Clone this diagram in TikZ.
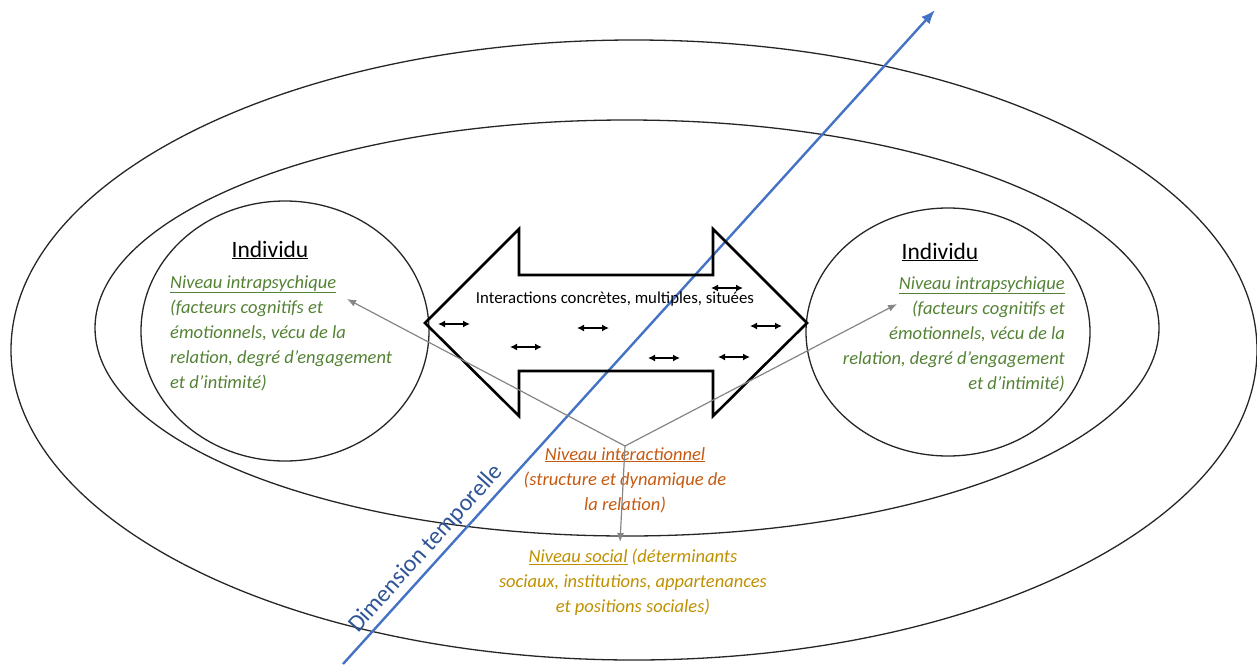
\documentclass[tikz,border=0pt]{standalone}
\usepackage{fontspec}
\setmainfont{Carlito}
\usetikzlibrary{arrows.meta,positioning,calc}
\definecolor{intraGreen}{HTML}{548235}
\definecolor{interOrange}{HTML}{C55A11}
\definecolor{socialGold}{HTML}{BF9000}
\definecolor{timeBlue}{HTML}{4472C4}
\definecolor{timeText}{HTML}{2F5597}
\begin{document}
\begin{tikzpicture}[x=1pt,y=-1pt,
	ring/.style={draw=black!85,line width=1.3pt},
	bigarrow/.style={draw=black,line width=2.6pt,line join=miter},
	smallarrow/.style={{Latex[length=7pt,width=7pt]}-{Latex[length=7pt,width=7pt]},line width=1.6pt},
	link/.style={-{Latex[length=9pt,width=7pt]},draw=black!48,line width=1.2pt},
	title/.style={font=\fontsize{23.5}{28}\selectfont,inner sep=0pt},
	intra/.style={font=\fontsize{18.5}{25}\selectfont\itshape,text=intraGreen,inner sep=0pt},
	level/.style={font=\fontsize{18.5}{25}\selectfont\itshape,inner sep=0pt,align=center}]
	\useasboundingbox (0,0) rectangle (1257,664);
	
	% les trois niveaux
	\draw[ring] (634,350) ellipse [x radius=623, y radius=310];
	\draw[ring] (627,328) ellipse [x radius=532, y radius=208];
	\draw[ring] (285,331) ellipse [x radius=144, y radius=130];
	\draw[ring] (948,332) ellipse [x radius=142, y radius=124];
	
	% dimension temporelle
	\coordinate (tstart) at (343,664);
	\coordinate (tend) at (935,10);
	\draw[-{Latex[length=14pt,width=11pt]},draw=timeBlue,line width=2.4pt] (tstart) -- (tend)
		node[pos=0.16,sloped,above=1pt,font=\fontsize{24}{28}\selectfont,text=timeText] (dimlabel) {Dimension temporelle};
	
	% grande fleche double
	\draw[bigarrow] (425,323) -- (519,229) -- (519,275) -- (713,275) -- (713,229) -- (807,323)
		-- (713,416) -- (713,371) -- (519,371) -- (519,416) -- cycle;
	\node[font=\fontsize{16.8}{20}\selectfont,inner sep=0pt] (inter) at (615,299) {Interactions concrètes, multiples, situées};
	\foreach \x/\y in {454/324,526/347,593/328,664/358,727/288,766/326,734/357}
		\draw[smallarrow] (\x-16,\y) -- (\x+16,\y);
	
	% individus
	\node[title] (indL) at (270,250) {\underline{Individu}};
	\node[title] (indR) at (940,252) {\underline{Individu}};
	\node[intra,align=left,anchor=north west] (intraL) at (170,275)
		{\underline{Niveau intrapsychique}\\(facteurs cognitifs et\\émotionnels, vécu de la\\relation, degré d’engagement\\et d’intimité)};
	\node[intra,align=right,anchor=north east] (intraR) at (1065,276)
		{\underline{Niveau intrapsychique}\\(facteurs cognitifs et\\émotionnels, vécu de la\\relation, degré d’engagement\\et d’intimité)};
	
	% niveaux interactionnel et social
	\node[level,text=interOrange,anchor=north] (interlevel) at (625,447)
		{\underline{Niveau interactionnel}\\(structure et dynamique de\\la relation)};
	\node[level,text=socialGold,anchor=north] (social) at (633,549)
		{\underline{Niveau social} (déterminants\\sociaux, institutions, appartenances\\et positions sociales)};
	
	% liens
	\coordinate (hub) at (625,446);
	\coordinate (toL) at (347,299);
	\coordinate (toR) at (897,304);
	\coordinate (toS) at (620,542);
	\draw[link] (hub) -- (toL);
	\draw[link] (hub) -- (toR);
	\draw[link] (hub) -- (toS);
\end{tikzpicture}
\end{document}
